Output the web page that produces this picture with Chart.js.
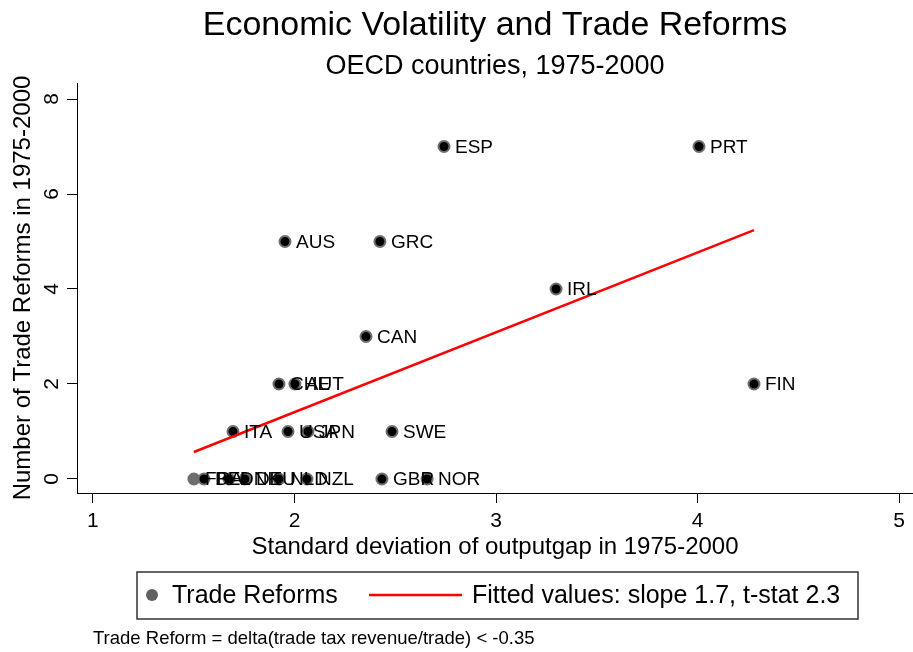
<!DOCTYPE html>
<html>
<head>
<meta charset="utf-8">
<script src="https://cdn.jsdelivr.net/npm/chart.js@4.4.0/dist/chart.umd.min.js"></script>
<style>
  html, body { margin: 0; padding: 0; background: #fff; }
  canvas { display: block; }
</style>
</head>
<body>
<canvas id="chart" width="913" height="652"></canvas>
<script>
// values
const countries = ['ESP', 'PRT', 'AUS', 'GRC', 'IRL', 'CAN', 'FIN', 'CHE', 'AUT', 'ITA', 'USA', 'JPN', 'SWE',
                   'FRA', 'BEL', 'DNK', 'DEU', 'NLD', 'NZL', 'GBR', 'NOR'];
const outputGapSd = [2.742, 4.007, 1.953, 2.424, 3.298, 2.355, 4.280, 1.923, 2.002, 1.695, 1.968, 2.067, 2.484,
                     1.501, 1.551, 1.675, 1.754, 1.923, 2.062, 2.434, 2.658];
const reforms = [7, 7, 5, 5, 4, 3, 2, 2, 2, 1, 1, 1, 1,
                 0, 0, 0, 0, 0, 0, 0, 0];
const fitX = [1.501, 4.280];
const fitY = [0.568, 5.240];
const xTicks = [1, 2, 3, 4, 5];
const yTicks = [0, 2, 4, 6, 8];

const FONT = "'Liberation Sans', Arial, Helvetica, sans-serif";
Chart.defaults.font.family = FONT;
Chart.defaults.color = '#000';

const scatterPts = outputGapSd.map((x, i) => ({ x: x, y: reforms[i] }));
const fitPts = fitX.map((x, i) => ({ x: x, y: fitY[i] }));

// titles, point labels, legend box and note, drawn the way Stata lays them out
const decorations = {
    id: 'decorations',
    beforeDraw(chart) {
        const ctx = chart.ctx;
        ctx.save();
        ctx.fillStyle = '#fff';
        ctx.fillRect(0, 0, chart.width, chart.height);
        ctx.restore();
    },
    afterDatasetsDraw(chart) {
        const ctx = chart.ctx;
        const meta = chart.getDatasetMeta(0);
        ctx.save();
        ctx.font = `19px ${FONT}`;
        ctx.fillStyle = '#000';
        ctx.textBaseline = 'middle';
        ctx.textAlign = 'left';
        meta.data.forEach((pt, i) => {
            ctx.fillText(countries[i], pt.x + 11, pt.y + 1);
        });
        ctx.restore();
    },
    afterDraw(chart) {
        const ctx = chart.ctx;
        const area = chart.chartArea;
        const cx = (area.left + area.right) / 2;
        ctx.save();
        ctx.fillStyle = '#000';
        ctx.textBaseline = 'middle';
        ctx.textAlign = 'center';
        ctx.font = `34px ${FONT}`;
        ctx.fillText('Economic Volatility and Trade Reforms', cx, 26);
        ctx.font = `27px ${FONT}`;
        ctx.fillText('OECD countries, 1975-2000', cx, 67);

        // legend
        const ds = chart.data.datasets;
        ctx.strokeStyle = '#333';
        ctx.lineWidth = 1.5;
        ctx.strokeRect(137, 572, 721, 47);
        ctx.beginPath();
        ctx.arc(152, 595, 6, 0, Math.PI * 2);
        ctx.fillStyle = '#606060';
        ctx.fill();
        ctx.fillStyle = '#000';
        ctx.textAlign = 'left';
        ctx.font = `25px ${FONT}`;
        ctx.fillText(ds[0].label, 172, 596);
        ctx.strokeStyle = ds[1].borderColor;
        ctx.lineWidth = 2.5;
        ctx.beginPath();
        ctx.moveTo(369, 595);
        ctx.lineTo(462, 595);
        ctx.stroke();
        ctx.fillText(ds[1].label, 472, 596);

        ctx.font = `18.5px ${FONT}`;
        ctx.fillText('Trade Reform = delta(trade tax revenue/trade) < -0.35', 93, 639);
        ctx.restore();
    }
};

new Chart(document.getElementById('chart'), {
    type: 'scatter',
    data: {
        datasets: [
            {
                label: 'Trade Reforms',
                data: scatterPts,
                pointRadius: 5.5,
                pointHoverRadius: 5.5,
                pointBackgroundColor: countries.map(c => c === 'FRA' ? '#6f6f6f' : '#000'),
                pointBorderColor: '#6f6f6f',
                pointBorderWidth: 2,
                order: 2
            },
            {
                label: 'Fitted values: slope 1.7, t-stat 2.3',
                data: fitPts,
                showLine: true,
                borderColor: '#ff0000',
                borderWidth: 2.5,
                pointRadius: 0,
                pointHoverRadius: 0,
                order: 1
            }
        ]
    },
    options: {
        responsive: false,
        animation: false,
        layout: { autoPadding: false, padding: { top: 83, bottom: 80, left: 0, right: 0 } },
        plugins: {
            legend: { display: false },
            tooltip: { enabled: false },
            title: { display: false }
        },
        scales: {
            x: {
                type: 'linear',
                min: 0.921,
                max: 5.069,
                afterBuildTicks: s => { s.ticks = xTicks.map(v => ({ value: v })); },
                afterFit: s => { s.height = 79; s.paddingLeft = 0; s.paddingRight = 0; },
                ticks: { font: { size: 21 }, color: '#000', padding: 6 },
                grid: { drawOnChartArea: false, tickLength: 10, color: '#000' },
                border: { color: '#000', width: 1 },
                title: {
                    display: true,
                    text: 'Standard deviation of outputgap in 1975-2000',
                    font: { size: 24 },
                    color: '#000',
                    padding: { top: 0, bottom: 10 }
                }
            },
            y: {
                type: 'linear',
                min: -0.295,
                max: 8.337,
                afterBuildTicks: s => { s.ticks = yTicks.map(v => ({ value: v })); },
                afterFit: s => { s.width = 77; s.paddingTop = 0; s.paddingBottom = 0; },
                ticks: { font: { size: 21 }, color: '#000', minRotation: 90, maxRotation: 90, crossAlign: 'center', padding: 9 },
                grid: { drawOnChartArea: false, tickLength: 10, color: '#000' },
                border: { color: '#000', width: 1 },
                title: {
                    display: true,
                    text: 'Number of Trade Reforms in 1975-2000',
                    font: { size: 24 },
                    color: '#000',
                    padding: { top: 9, bottom: 0 }
                }
            }
        }
    },
    plugins: [decorations]
});
</script>
</body>
</html>
